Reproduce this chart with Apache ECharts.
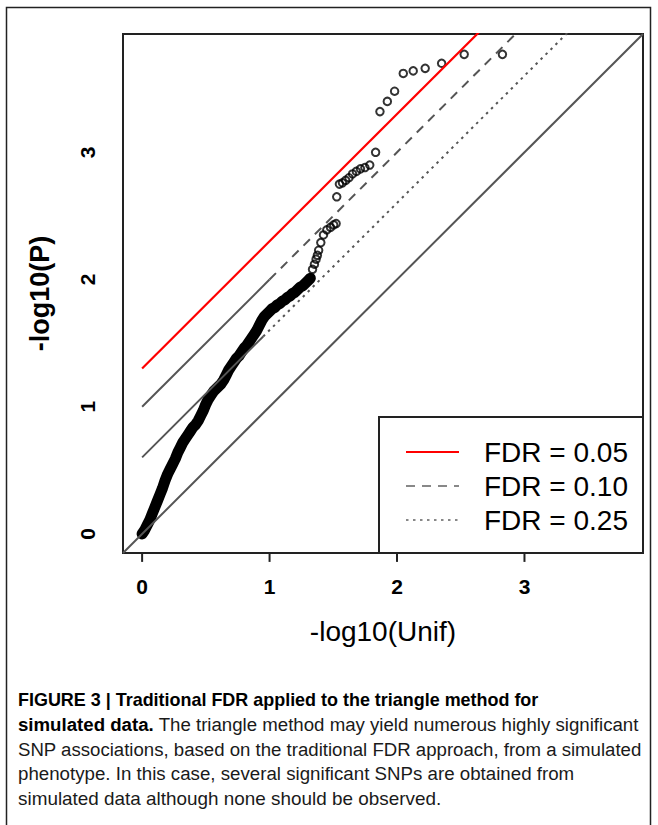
<!DOCTYPE html>
<html><head><meta charset="utf-8">
<script src="https://cdn.jsdelivr.net/npm/echarts@6/dist/echarts.min.js"></script>
<style>html,body{margin:0;padding:0;background:#fff;} #c{width:658px;height:825px;}</style>
</head><body><div id="c"></div>
<script>
// ---- data ----
const xTicks = [0, 1, 2, 3];
const yTicks = [0, 1, 2, 3];
const denseX = [0.00,0.02,0.04,0.06,0.08,0.10,0.12,0.14,0.16,0.18,0.20,0.22,0.24,0.26,0.28,0.30,0.32,0.34,0.36,0.38,0.40,0.42,0.44,0.46,0.48,0.50,0.52,0.54,0.56,0.58,0.60,0.62,0.64,0.66,0.68,0.70,0.72,0.74,0.76,0.78,0.80,0.82,0.84,0.86,0.88,0.90,0.92,0.94,0.96,0.98,1.00,1.02,1.04,1.06,1.08,1.10,1.12,1.14,1.16,1.18,1.20,1.22,1.24,1.26,1.28,1.30,1.32];
const denseY = [0.00,0.03,0.07,0.11,0.16,0.21,0.26,0.31,0.36,0.42,0.47,0.51,0.55,0.59,0.64,0.68,0.72,0.75,0.78,0.81,0.84,0.86,0.89,0.93,0.97,1.02,1.06,1.09,1.12,1.14,1.16,1.18,1.21,1.25,1.29,1.32,1.35,1.38,1.40,1.43,1.46,1.48,1.51,1.54,1.57,1.60,1.64,1.68,1.71,1.73,1.75,1.77,1.78,1.80,1.81,1.83,1.84,1.86,1.87,1.89,1.90,1.92,1.94,1.95,1.97,1.99,2.01];
const sparseX = [1.337,1.352,1.365,1.375,1.385,1.402,1.423,1.449,1.478,1.503,1.522,1.527,1.548,1.572,1.597,1.623,1.651,1.681,1.713,1.748,1.786,1.832,1.866,1.924,1.981,2.049,2.127,2.221,2.350,2.527,2.827];
const sparseY = [2.08,2.12,2.16,2.19,2.23,2.29,2.35,2.39,2.41,2.43,2.44,2.65,2.75,2.76,2.78,2.80,2.83,2.85,2.87,2.88,2.90,3.00,3.32,3.40,3.48,3.62,3.64,3.66,3.70,3.77,3.77];
const fdrLabels = ['FDR = 0.05', 'FDR = 0.10', 'FDR = 0.25'];
const fdrOffsets = [1.301, 1.0, 0.602];
const xTitle = '-log10(Unif)';
const yTitle = '-log10(P)';

// ---- chart ----
const chart = echarts.init(document.getElementById('c'), null, {renderer: 'svg'});
const FONT = '"Liberation Sans", Arial, sans-serif';
const GRAY = '#555';
const AX_MIN = -0.15, AX_MAX = 3.93;
const TICK_LEN = 0.07; // outward tick length in axis units

const dense = denseX.map((x, i) => [x, denseY[i]]);
const sparse = sparseX.map((x, i) => [x, sparseY[i]]);
const pts = dense.concat(sparse);

function refLine(c, from, to) { return [[from, from + c], [to, to + c]]; }
// where the densely drawn R segments make the patterned lines look solid
const solidUntil = [null, 1.0, 0.95];
const fdrStyles = [
  {color: '#ff0000', width: 2.2, type: 'solid'},
  {color: GRAY, width: 2, type: [9, 7]},
  {color: GRAY, width: 2, type: [2.5, 4.5]}
];

const series = [];
series.push({
  type: 'line', data: dense, showSymbol: false, symbol: 'none', z: 2,
  lineStyle: {color: '#000', width: 11, cap: 'round', join: 'round'}, silent: true, animation: false
});
series.push({
  type: 'scatter', data: pts, symbol: 'circle', symbolSize: 7.5, z: 2,
  itemStyle: {color: 'rgba(0,0,0,0)', borderColor: '#000', borderWidth: 2}, animation: false
});
series.push({
  type: 'line', data: [[AX_MIN, AX_MIN], [AX_MAX, AX_MAX]], showSymbol: false, z: 3,
  lineStyle: {color: GRAY, width: 2}, animation: false
});
fdrOffsets.forEach((c, k) => {
  const st = fdrStyles[k];
  if (solidUntil[k] != null) {
    series.push({type: 'line', data: refLine(c, 0, solidUntil[k]), showSymbol: false, z: 3,
      lineStyle: {color: st.color, width: st.width, type: 'solid'}, animation: false});
    series.push({type: 'line', data: refLine(c, solidUntil[k], 4), showSymbol: false, z: 3,
      lineStyle: {color: st.color, width: st.width, type: st.type}, animation: false});
  } else {
    series.push({type: 'line', data: refLine(c, 0, 4), showSymbol: false, z: 3,
      lineStyle: {color: st.color, width: st.width, type: st.type}, animation: false});
  }
});
// R-style outward ticks, drawn through the axes' scales
xTicks.forEach(v => series.push({type: 'line', clip: false, showSymbol: false, z: 6, animation: false,
  data: [[v, AX_MIN], [v, AX_MIN - TICK_LEN]], lineStyle: {color: '#222', width: 2}}));
yTicks.forEach(v => series.push({type: 'line', clip: false, showSymbol: false, z: 6, animation: false,
  data: [[AX_MIN, v], [AX_MIN - TICK_LEN, v]], lineStyle: {color: '#222', width: 2}}));

// legend (graphic)
const LX = 379, LY = 417, LW = 264, LH = 136;
const legendRows = [452, 486, 520];
const graphic = [
  {type: 'rect', shape: {x: 6.5, y: 7.5, width: 644, height: 860}, style: {fill: 'none', stroke: '#222', lineWidth: 1.5}, z: 1},
  {type: 'rect', shape: {x: LX, y: LY, width: LW, height: LH}, style: {fill: '#fff', stroke: '#222', lineWidth: 2}, z: 10}
];
fdrLabels.forEach((t, k) => {
  const st = fdrStyles[k];
  graphic.push({type: 'line', shape: {x1: 406, y1: legendRows[k], x2: 459, y2: legendRows[k]},
    style: {stroke: k === 0 ? st.color : '#888', lineWidth: 2, lineDash: k === 0 ? null : st.type}, z: 11});
  graphic.push({type: 'text', x: 484, y: legendRows[k], z: 11,
    style: {text: t, font: '28px ' + FONT, fill: '#000', verticalAlign: 'middle'}});
});
// caption
const capLines = [
  '{b|FIGURE 3 | Traditional FDR applied to the triangle method for}',
  '{b|simulated data.} The triangle method may yield numerous highly significant',
  'SNP associations, based on the traditional FDR approach, from a simulated',
  'phenotype. In this case, several significant SNPs are obtained from',
  'simulated data although none should be observed.'
];
const capY = [699, 724, 749, 773, 798];
const capScale = [0.945, 0.982, 0.98, 0.985, 0.995];
capLines.forEach((t, k) => {
  graphic.push({type: 'text', x: 18, y: capY[k], scaleX: capScale[k], z: 11,
    style: {text: t, font: '19px ' + FONT, fill: '#1a1a1a', verticalAlign: 'middle',
      rich: {b: {fontFamily: FONT, fontSize: 19, fontWeight: 'bold', fill: '#000', color: '#000'}}}});
});

const axisCommon = {
  type: 'value', min: AX_MIN, max: AX_MAX,
  splitLine: {show: false},
  axisLine: {show: false, onZero: false},
  axisTick: {show: false},
  axisLabel: {show: false}
};
chart.setOption({
  animation: false,
  backgroundColor: '#fff',
  grid: {left: 123, top: 34, width: 520, height: 519, show: true, borderColor: '#222', borderWidth: 2, backgroundColor: 'transparent'},
  xAxis: Object.assign({}, axisCommon, {
    name: xTitle, nameLocation: 'middle', nameGap: 64,
    nameTextStyle: {fontFamily: FONT, fontSize: 28, color: '#000'}
  }),
  yAxis: Object.assign({}, axisCommon, {
    name: yTitle, nameLocation: 'middle', nameGap: 70,
    nameTextStyle: {fontFamily: FONT, fontSize: 27, fontWeight: 'bold', color: '#000'}
  }),
  series: series,
  graphic: graphic
});

// tick labels placed through the chart's own scales
const extra = [];
xTicks.forEach(v => {
  const p = chart.convertToPixel({gridIndex: 0}, [v, AX_MIN]);
  extra.push({type: 'text', x: p[0], y: p[1] + 33, z: 12,
    style: {text: String(v), font: 'bold 21px ' + FONT, fill: '#000', align: 'center', verticalAlign: 'middle'}});
});
yTicks.forEach(v => {
  const p = chart.convertToPixel({gridIndex: 0}, [AX_MIN, v]);
  extra.push({type: 'text', x: p[0] - 36, y: p[1], rotation: Math.PI / 2, z: 12,
    style: {text: String(v), font: 'bold 21px ' + FONT, fill: '#000', align: 'center', verticalAlign: 'middle'}});
});
chart.setOption({graphic: graphic.concat(extra)});
</script></body></html>
